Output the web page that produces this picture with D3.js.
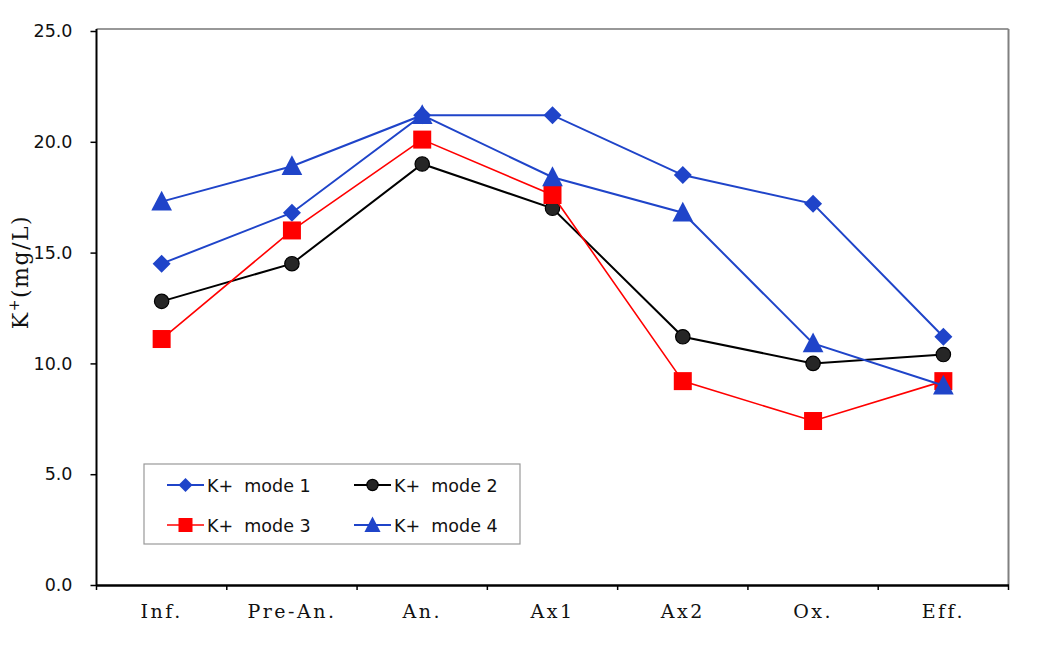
<!DOCTYPE html>
<html>
<head>
<meta charset="utf-8">
<script src="https://cdn.jsdelivr.net/npm/d3@7/dist/d3.min.js"></script>
<style>
  html, body { margin: 0; padding: 0; background: #fff; }
  svg { display: block; }
</style>
</head>
<body>
<svg id="chart" width="1039" height="648"></svg>
<script>
const categories = ["Inf.", "Pre-An.", "An.", "Ax1", "Ax2", "Ox.", "Eff."];
const mode1 = [14.5, 16.8, 21.2, 21.2, 18.5, 17.2, 11.2];
const mode2 = [12.8, 14.5, 19.0, 17.0, 11.2, 10.0, 10.4];
const mode3 = [11.1, 16.0, 20.1, 17.6, 9.2, 7.4, 9.2];
const mode4 = [17.3, 18.9, 21.2, 18.4, 16.8, 10.9, 9.0];
const seriesNames = ["K+  mode 1", "K+  mode 2", "K+  mode 3", "K+  mode 4"];
const yTicks = [0, 5, 10, 15, 20, 25];

(function () {
const BLUE = "#1f44c9", RED = "#ff0000", BLACK = "#000000";
const series = [
  { name: seriesNames[0], values: mode1, color: BLUE, marker: "diamond", lw: 2 },
  { name: seriesNames[1], values: mode2, color: BLACK, marker: "circle", lw: 2 },
  { name: seriesNames[2], values: mode3, color: RED, marker: "square", lw: 1.6 },
  { name: seriesNames[3], values: mode4, color: BLUE, marker: "triangle", lw: 2 }
];

const svg = d3.select("#chart");
const pLeft = 96.5, pRight = 1008.5, pTop = 31, pBottom = 585;

const x = d3.scaleBand().domain(categories).range([pLeft, pRight]).paddingInner(0).paddingOuter(0);
const y = d3.scaleLinear().domain([0, 25]).range([pBottom, pTop]);
const cx = d => x(d) + x.bandwidth() / 2;

// frame: top and right
svg.append("line").attr("x1", pLeft).attr("x2", pRight).attr("y1", pTop - 2).attr("y2", pTop - 2)
  .attr("stroke", "#333").attr("stroke-width", 1.2);
svg.append("line").attr("x1", pRight).attr("x2", pRight).attr("y1", pTop - 2).attr("y2", pBottom)
  .attr("stroke", "#808080").attr("stroke-width", 2);

// y axis
const yAxis = d3.axisLeft(y).tickValues(yTicks).tickFormat(d3.format(".1f")).tickSize(6).tickPadding(18);
const gy = svg.append("g").attr("transform", `translate(${pLeft},0)`).call(yAxis);
gy.select(".domain").attr("stroke", "#000").attr("stroke-width", 2).attr("d", `M0,${pTop - 2}V${pBottom}`);
gy.selectAll(".tick line").attr("stroke", "#000").attr("stroke-width", 1.5);
gy.selectAll(".tick text").attr("font-family", "'DejaVu Sans', sans-serif").attr("font-size", 17.5)
  .attr("fill", "#111");

// x axis
const xAxis = d3.axisBottom(x).tickSize(0).tickPadding(0);
const gx = svg.append("g").attr("transform", `translate(0,${pBottom})`).call(xAxis);
gx.select(".domain").attr("stroke", "#000").attr("stroke-width", 2.5);
gx.selectAll(".tick text").attr("font-family", "'DejaVu Serif', serif").attr("font-size", 19)
  .attr("letter-spacing", "2.5px").attr("fill", "#111").attr("dy", null).attr("y", 33);
// category boundary ticks
const bounds = categories.map(c => x(c)).concat([pRight]);
svg.append("g").selectAll("line").data(bounds).join("line")
  .attr("x1", d => d).attr("x2", d => d).attr("y1", pBottom).attr("y2", pBottom + 5)
  .attr("stroke", "#000").attr("stroke-width", 1.5);

// y axis title
const yt = svg.append("text")
  .attr("transform", `translate(28,272) rotate(-90)`)
  .attr("text-anchor", "middle")
  .attr("font-family", "'DejaVu Serif', serif").attr("font-size", 22)
  .attr("letter-spacing", "1.5px").attr("fill", "#111");
yt.append("tspan").text("K");
yt.append("tspan").attr("font-size", 14).attr("dy", -9).text("+");
yt.append("tspan").attr("dy", 9).text("(mg/L)");

function drawMarker(g, type, color, s) {
  if (type === "diamond") {
    g.append("path").attr("d", `M0,${-s}L${s},0L0,${s}L${-s},0Z`).attr("fill", color);
  } else if (type === "circle") {
    g.append("circle").attr("r", s * 0.8).attr("fill", "#262626").attr("stroke", "#000").attr("stroke-width", 1.2);
  } else if (type === "square") {
    g.append("rect").attr("x", -s).attr("y", -s).attr("width", 2 * s).attr("height", 2 * s).attr("fill", color);
  } else if (type === "triangle") {
    const h = s * 2.2, w = s * 2.3;
    g.append("path").attr("d", `M0,${-h * 0.55}L${w / 2},${h * 0.45}L${-w / 2},${h * 0.45}Z`).attr("fill", color);
  }
}

const line = d3.line().x((d, i) => cx(categories[i])).y(d => y(d));

series.forEach(s => {
  const g = svg.append("g");
  g.append("path").attr("d", line(s.values)).attr("fill", "none")
    .attr("stroke", s.color).attr("stroke-width", s.lw);
  s.values.forEach((v, i) => {
    const mg = g.append("g").attr("transform", `translate(${cx(categories[i])},${y(v)})`);
    drawMarker(mg, s.marker, s.color, 9);
  });
});

// legend
const lg = svg.append("g");
lg.append("rect").attr("x", 144).attr("y", 464).attr("width", 376).attr("height", 80)
  .attr("fill", "#fff").attr("stroke", "#999").attr("stroke-width", 1.2);
const legPos = [[167, 485], [354, 485], [167, 525], [354, 525]];
series.forEach((s, i) => {
  const [lx, ly] = legPos[i];
  const g = lg.append("g");
  g.append("line").attr("x1", lx).attr("x2", lx + 37).attr("y1", ly).attr("y2", ly)
    .attr("stroke", s.color).attr("stroke-width", s.lw);
  const mg = g.append("g").attr("transform", `translate(${lx + 18.5},${ly})`);
  drawMarker(mg, s.marker, s.color, 7);
  g.append("text").attr("x", lx + 40).attr("y", ly + 6.5)
    .attr("font-family", "'DejaVu Sans', sans-serif").attr("font-size", 17.5).attr("fill", "#111")
    .attr("xml:space", "preserve").style("white-space", "pre").text(s.name);
});
})();
</script>
</body>
</html>
